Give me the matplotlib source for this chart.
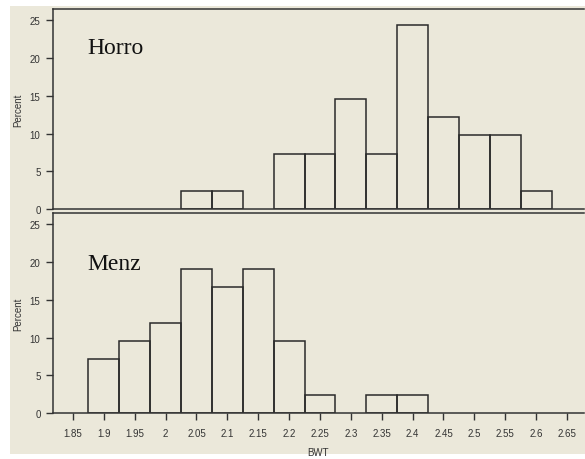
import matplotlib.pyplot as plt
from matplotlib.patches import Rectangle

# bin midpoints (BWT) and percent per bin
horro_bwt = [2.05, 2.10, 2.20, 2.25, 2.30, 2.35, 2.40, 2.45, 2.50, 2.55, 2.60]
horro_pct = [2.44, 2.44, 7.32, 7.32, 14.63, 7.32, 24.39, 12.20, 9.76, 9.76, 2.44]

menz_bwt = [1.90, 1.95, 2.00, 2.05, 2.10, 2.15, 2.20, 2.25, 2.35, 2.40]
menz_pct = [7.14, 9.52, 11.90, 19.05, 16.67, 19.05, 9.52, 2.38, 2.38, 2.38]

xticks = [1.85, 1.9, 1.95, 2.0, 2.05, 2.1, 2.15, 2.2, 2.25, 2.3, 2.35,
          2.4, 2.45, 2.5, 2.55, 2.6, 2.65]
xtick_labels = ['1.85', '1.9', '1.95', '2', '2.05', '2.1', '2.15', '2.2', '2.25',
                '2.3', '2.35', '2.4', '2.45', '2.5', '2.55', '2.6', '2.65']
yticks = [0, 5, 10, 15, 20, 25]

bg = '#ebe8da'
edge = '#2a2a2a'
W, H = 585, 460

fig = plt.figure(figsize=(W / 100, H / 100), dpi=100, facecolor='white')
fig.patches.append(Rectangle((10 / W, 5 / H), 1 - 10 / W, 1 - 12 / H,
                             transform=fig.transFigure, facecolor=bg,
                             edgecolor='none', zorder=-10))

ax_top = fig.add_axes([53 / W, 1 - 210 / H, 531 / W, 200 / H])
ax_bot = fig.add_axes([53 / W, 1 - 414 / H, 531 / W, 200 / H])

panels = [(ax_top, horro_bwt, horro_pct, 'Horro', 0.78),
          (ax_bot, menz_bwt, menz_pct, 'Menz', 0.72)]

for ax, xs, ys, name, ty in panels:
    ax.set_facecolor(bg)
    ax.bar(xs, ys, width=0.05, align='center', fill=False,
           edgecolor=edge, linewidth=1.1)
    ax.set_xlim(1.8176, 2.6776)
    ax.set_ylim(0, 26.5)
    ax.set_yticks(yticks)
    ax.set_yticklabels([str(v) for v in yticks], fontsize=7,
                       family='Liberation Sans', color='#333333')
    ax.tick_params(axis='y', direction='out', length=5, width=1, color='#333333',
                   pad=4)
    ax.spines['right'].set_visible(False)
    for s in ['left', 'top', 'bottom']:
        ax.spines[s].set_color('#333333')
        ax.spines[s].set_linewidth(1.1)
    ax.set_ylabel('Percent', fontsize=7, family='Liberation Sans', color='#333333',
                  labelpad=5)
    ax.text(0.064, ty, name, transform=ax.transAxes, fontsize=17,
            family='Liberation Serif', va='baseline', ha='left', color='#111111')

ax_top.set_xticks([])
ax_bot.set_xticks(xticks)
ax_bot.set_xticklabels(xtick_labels, fontsize=7, family='Liberation Sans',
                       color='#333333')
ax_bot.tick_params(axis='x', direction='out', length=5, width=1, color='#333333',
                   pad=6)
ax_bot.set_xlabel('BWT', fontsize=7, family='Liberation Sans', color='#333333',
                  labelpad=6)

fig.savefig('out.png', dpi=100, facecolor='white')
